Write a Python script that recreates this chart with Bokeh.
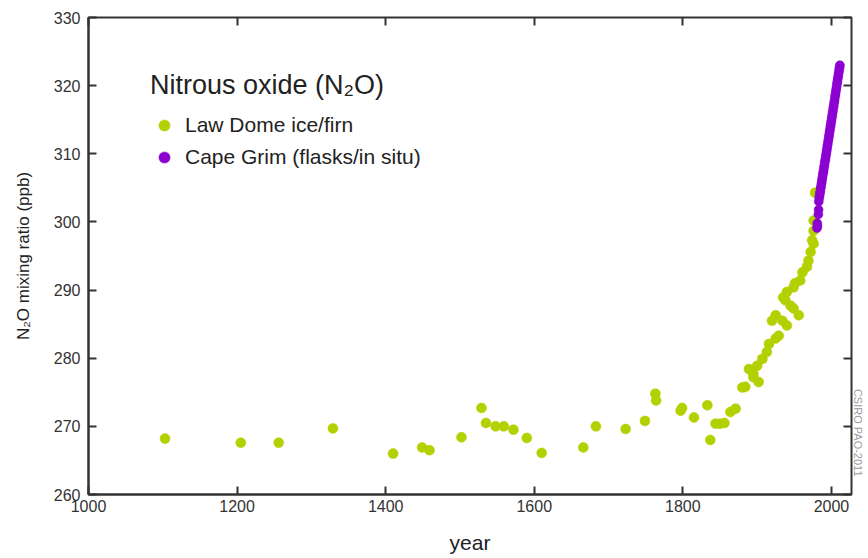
from bokeh.plotting import figure
from bokeh.models import Range1d, LinearAxis, Legend, LegendItem, Title, FixedTicker
from bokeh.embed import file_html
from bokeh.resources import INLINE

# Law Dome ice/firn
law_year = [1103, 1205, 1256, 1329, 1410, 1449, 1459, 1502, 1529, 1535, 1548, 1559,
            1572, 1590, 1610, 1666, 1683, 1723, 1749, 1763, 1764, 1797, 1799, 1815,
            1833, 1837, 1844, 1850, 1856, 1864, 1871, 1880, 1884, 1889, 1895, 1895,
            1900, 1902, 1907, 1913, 1916, 1920, 1925, 1925, 1929, 1934, 1935, 1938,
            1940, 1940, 1945, 1949, 1949, 1951, 1956, 1958, 1961, 1967, 1969, 1972,
            1974, 1976, 1976, 1976, 1978]
law_ppb = [268.2, 267.6, 267.6, 269.7, 266.0, 266.9, 266.5, 268.4, 272.7, 270.5, 270.0, 270.0,
           269.5, 268.3, 266.1, 266.9, 270.0, 269.6, 270.8, 274.8, 273.8, 272.3, 272.7, 271.3,
           273.1, 268.0, 270.4, 270.4, 270.5, 272.1, 272.6, 275.7, 275.8, 278.4, 277.2, 277.7,
           278.9, 276.5, 279.9, 280.9, 282.1, 285.5, 282.9, 286.3, 283.3, 285.5, 288.9, 288.5,
           284.8, 289.7, 287.7, 287.3, 290.4, 291.0, 286.3, 291.4, 292.6, 293.4, 294.3, 295.6,
           297.3, 296.8, 298.7, 300.2, 304.3]

# Cape Grim (flasks / in situ)
cg_year = [1980.6, 1980.9, 1981.2, 1982.4, 1982.7, 1983.0, 1983.5, 1984.0, 1984.5, 1985.0,
           1985.5, 1986.0, 1986.5, 1987.0, 1987.5, 1988.0, 1988.5, 1989.0, 1989.5, 1990.0,
           1990.5, 1991.0, 1991.5, 1992.0, 1992.5, 1993.0, 1993.5, 1994.0, 1994.5, 1995.0,
           1995.5, 1996.0, 1996.5, 1997.0, 1997.5, 1998.0, 1998.5, 1999.0, 1999.5, 2000.0,
           2000.5, 2001.0, 2001.5, 2002.0, 2002.5, 2003.0, 2003.5, 2004.0, 2004.5, 2005.0,
           2005.5, 2006.0, 2006.5, 2007.0, 2007.5, 2008.0, 2008.5, 2009.0, 2009.5, 2010.0,
           2010.5, 2011.0, 2011.3]
cg_ppb = [299.1, 299.8, 299.4, 301.1, 301.8, 303.0, 303.5, 303.8, 304.2, 304.5,
          304.9, 305.2, 305.6, 305.9, 306.3, 306.6, 307.0, 307.3, 307.6, 308.0,
          308.3, 308.7, 309.0, 309.3, 309.7, 310.0, 310.4, 310.7, 311.1, 311.4,
          311.8, 312.1, 312.5, 312.8, 313.2, 313.5, 313.9, 314.2, 314.6, 314.9,
          315.3, 315.6, 316.0, 316.3, 316.7, 317.0, 317.4, 317.7, 318.1, 318.5,
          318.8, 319.2, 319.5, 319.9, 320.3, 320.6, 321.0, 321.3, 321.7, 322.0,
          322.4, 322.7, 323.0]

x_ticks = [1000, 1200, 1400, 1600, 1800, 2000]
y_ticks = [260, 270, 280, 290, 300, 310, 320, 330]

FONT = "Liberation Sans"
AX = "#333333"
GREEN = "#b3d000"
PURPLE = "#8c00d2"

p = figure(width=868, height=558, output_backend="svg", toolbar_location=None,
           x_range=Range1d(1000, 2027), y_range=Range1d(260, 330),
           min_border_left=88, min_border_right=17, min_border_top=17, min_border_bottom=64,
           background_fill_color="white", border_fill_color="white")
p.grid.visible = False
p.outline_line_color = AX
p.outline_line_width = 2

for ax in (p.xaxis[0], p.yaxis[0]):
    ax.axis_line_color = AX
    ax.axis_line_width = 2
    ax.major_tick_line_color = AX
    ax.major_tick_line_width = 2
    ax.major_tick_in = 8
    ax.major_tick_out = 0
    ax.minor_tick_line_color = None
    ax.major_label_text_font = FONT
    ax.major_label_text_font_size = "16px"
    ax.major_label_text_color = "#333333"
    ax.axis_label_text_font = FONT
    ax.axis_label_text_font_style = "normal"
    ax.axis_label_text_color = "#222222"

p.xaxis[0].ticker = FixedTicker(ticks=x_ticks)
p.yaxis[0].ticker = FixedTicker(ticks=y_ticks)
p.xaxis[0].axis_label = "year"
p.xaxis[0].axis_label_text_font_size = "21px"
p.xaxis[0].axis_label_standoff = 16
p.xaxis[0].major_label_standoff = 5
p.yaxis[0].axis_label = "N\u2082O mixing ratio (ppb)"
p.yaxis[0].axis_label_text_font_size = "17px"
p.yaxis[0].axis_label_standoff = 18
p.yaxis[0].major_label_standoff = 8

# mirrored inward ticks on top and right (no labels)
top = LinearAxis(ticker=FixedTicker(ticks=x_ticks), major_label_text_font_size="1px",
                 major_label_text_color=None,
                 major_label_standoff=0, axis_line_color=None, major_tick_line_color=AX,
                 major_tick_line_width=2, major_tick_in=8, major_tick_out=0,
                 minor_tick_line_color=None)
right = LinearAxis(ticker=FixedTicker(ticks=y_ticks), major_label_text_font_size="1px",
                   major_label_text_color=None,
                   major_label_standoff=0, axis_line_color=None, major_tick_line_color=AX,
                   major_tick_line_width=2, major_tick_in=8, major_tick_out=0,
                   minor_tick_line_color=None)
p.add_layout(top, "above")
p.add_layout(right, "right")

r1 = p.scatter(law_year, law_ppb, size=10, fill_color=GREEN, line_color=GREEN, line_width=0.5)
r2 = p.scatter(cg_year, cg_ppb, size=9, fill_color=PURPLE, line_color=PURPLE, line_width=0.5)

legend = Legend(items=[LegendItem(label="Law Dome ice/firn", renderers=[r1]),
                       LegendItem(label="Cape Grim (flasks/in situ)", renderers=[r2])],
                location=(62, 323), padding=0, margin=0, spacing=4,
                border_line_color=None, background_fill_alpha=0,
                title="Nitrous oxide (N\u2082O)", title_text_font=FONT,
                title_text_font_size="27px", title_text_font_style="normal",
                title_text_color="#222222", title_standoff=10,
                label_text_font=FONT, label_text_font_size="21px", label_text_color="#222222",
                glyph_width=28, glyph_height=28, label_height=28, label_standoff=7)
p.add_layout(legend, "center")

credit = Title(text="CSIRO PAO-2011", align="right", offset=18, standoff=0,
               text_font=FONT, text_font_size="11px", text_font_style="normal",
               text_color="#9a9a9a")
p.add_layout(credit, "right")

open("out.html", "w").write(file_html(p, INLINE))
